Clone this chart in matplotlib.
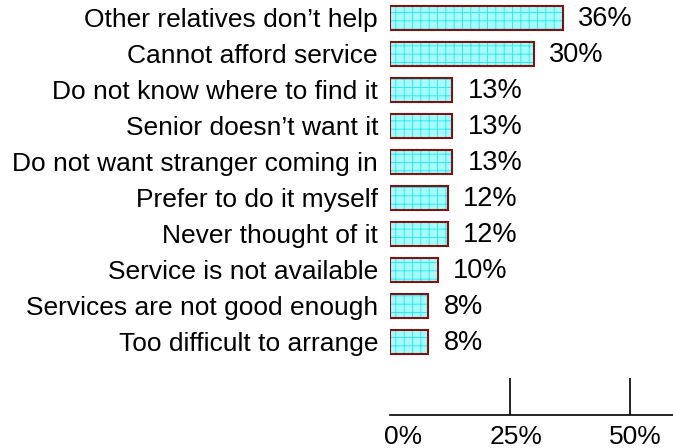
import matplotlib.pyplot as plt
from matplotlib.transforms import ScaledTranslation

plt.rcParams['font.family'] = ['Liberation Sans', 'DejaVu Sans']
plt.rcParams['hatch.linewidth'] = 0.7

reasons = ["Other relatives don\u2019t help", "Cannot afford service",
           "Do not know where to find it", "Senior doesn\u2019t want it",
           "Do not want stranger coming in", "Prefer to do it myself",
           "Never thought of it", "Service is not available",
           "Services are not good enough", "Too difficult to arrange"]
shares = [36, 30, 13, 13, 13, 12, 12, 10, 8, 8]
tick_vals = [0, 25, 50]
tick_text = ["0%", "25%", "50%"]

fig = plt.figure(figsize=(6.73, 4.48), dpi=100)
ax = fig.add_axes([390 / 673, 33 / 448, 283 / 673, 415 / 448])

ypos = list(range(len(reasons)))
# cyan grid fill first, then the dark red outline on top
ax.barh(ypos, shares, height=0.67, color='#a6fcfc', edgecolor='#30eaf0',
        hatch='++', linewidth=0)
ax.barh(ypos, shares, height=0.67, color='none', edgecolor='#841010',
        linewidth=1.5)

for y, v in zip(ypos, shares):
    ax.annotate(f"{v}%", (v, y), xytext=(15, -1), textcoords='offset pixels',
                ha='left', va='center', fontsize=19.5)

ax.set_yticks(ypos)
ax.set_yticklabels(reasons, fontsize=19)
ax.tick_params(axis='y', length=0, pad=8.6)

ax.set_xlim(0, 283 / 4.8)
ax.set_ylim(11.03, -0.5)
ax.set_xticks(tick_vals)
ax.set_xticklabels(tick_text, fontsize=19)
ax.tick_params(axis='x', direction='in', length=27, width=1.2, pad=7)
ax.xaxis.get_major_ticks()[0].tick1line.set_visible(False)
for lab, dx in zip(ax.get_xticklabels(), [13, 6, 5]):
    lab.set_transform(lab.get_transform() + ScaledTranslation(dx / 100, 0, fig.dpi_scale_trans))

for s in ['top', 'right', 'left']:
    ax.spines[s].set_visible(False)
ax.spines['bottom'].set_linewidth(1.2)

fig.savefig('out.png', dpi=100)
